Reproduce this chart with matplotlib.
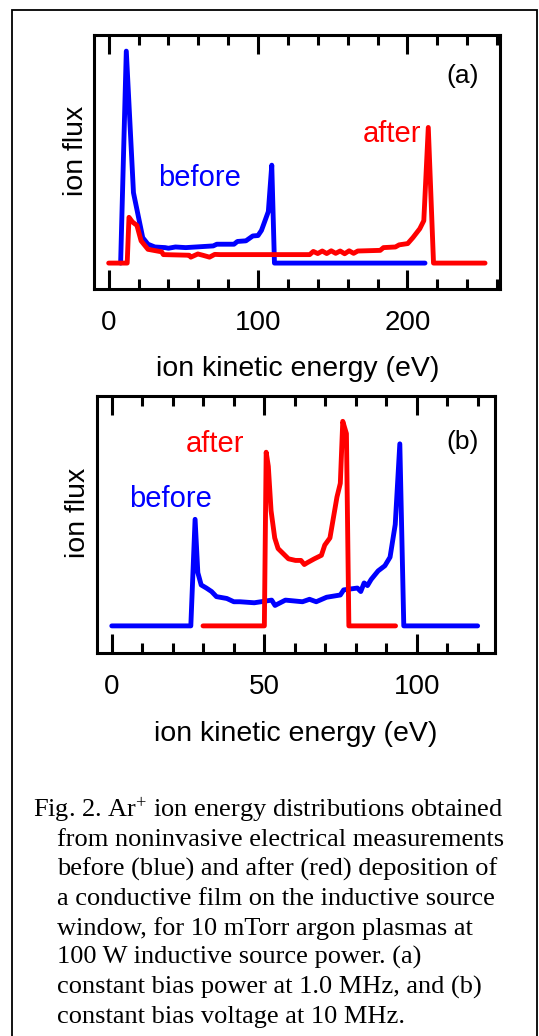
import matplotlib.pyplot as plt
from matplotlib.patches import Rectangle
from matplotlib.ticker import MultipleLocator

# panel (a): constant bias power at 1.0 MHz
a_before_x = [8, 11.8, 16.6, 22.8, 26.3, 30.9, 37.8, 40, 44.7, 51.6, 70, 72.4, 83.9, 86.2,
              91.9, 96.5, 100, 102.3, 106.9, 109.2, 111, 211.8]
a_before_y = [0, 1.0, 0.332, 0.12, 0.089, 0.076, 0.073, 0.070, 0.076, 0.073, 0.081, 0.089,
              0.089, 0.102, 0.105, 0.128, 0.13, 0.154, 0.243, 0.462, 0, 0]
a_after_x = [0, 12.4, 13.6, 15.9, 18.9, 21.7, 26.3, 35.5, 36.6, 53.9, 55, 59.7, 63, 67.5,
             71, 74.7, 134.6, 137, 140, 143, 146, 149, 152, 155, 158, 161, 164, 166.8,
             181.8, 184, 192, 194.5, 200.2, 203.7, 208.3, 211, 214, 217.5, 252]
a_after_y = [0, 0, 0.216, 0.194, 0.178, 0.105, 0.065, 0.053, 0.04, 0.037, 0.028, 0.043,
             0.037, 0.028, 0.041, 0.04, 0.04, 0.055, 0.045, 0.057, 0.045, 0.058, 0.046,
             0.057, 0.044, 0.058, 0.046, 0.057, 0.06, 0.073, 0.076, 0.086, 0.092, 0.12,
             0.162, 0.2, 0.64, 0, 0]

# panel (b): constant bias voltage at 10 MHz
b_before_x = [0, 25.9, 27.3, 28.2, 29.3, 31, 32.7, 34.3, 37.7, 40, 42, 46.7, 52.4, 53.5,
              56.9, 62.5, 64.8, 67, 70.4, 74.9, 76, 80.5, 81.6, 82.7, 83.8, 85, 87.3,
              89.5, 91.2, 92.9, 94.4, 95.7, 119.9]
b_before_y = [0, 0, 0.521, 0.26, 0.20, 0.185, 0.168, 0.143, 0.134, 0.118, 0.118, 0.113,
              0.126, 0.10, 0.126, 0.118, 0.13, 0.118, 0.14, 0.151, 0.176, 0.185, 0.168,
              0.21, 0.197, 0.227, 0.269, 0.294, 0.336, 0.496, 0.89, 0, 0]
b_after_x = [29.9, 50, 50.6, 51.3, 52.2, 53.4, 54.5, 56.2, 57.9, 60.2, 62, 63.1, 64.2,
             66.4, 68.7, 69.8, 71.5, 73.8, 74.9, 75.7, 76.9, 77.7, 93]
b_after_y = [0, 0, 0.849, 0.78, 0.563, 0.43, 0.378, 0.353, 0.328, 0.32, 0.32, 0.30,
             0.31, 0.328, 0.345, 0.395, 0.43, 0.63, 0.697, 1.0, 0.94, 0, 0]

BLUE = '#0000ff'
RED = '#ff0000'

plt.rcParams['font.family'] = ['Liberation Sans', 'DejaVu Sans']
plt.rcParams['mathtext.fontset'] = 'custom'
plt.rcParams['mathtext.rm'] = 'Liberation Serif'
plt.rcParams['mathtext.it'] = 'Liberation Serif:italic'

fig = plt.figure(figsize=(5.39, 10.36), dpi=100)

# outer frame of the clipped figure page
fig.patches.append(Rectangle((12 / 539, -0.05), 525 / 539, 1 - 10 / 1036 + 0.05,
                             transform=fig.transFigure, fill=False,
                             edgecolor='black', linewidth=1.3))


def style_axes(ax, major, minor, ylab_y):
    for s in ax.spines.values():
        s.set_linewidth(2.2)
    ax.xaxis.set_major_locator(MultipleLocator(major))
    ax.xaxis.set_minor_locator(MultipleLocator(minor))
    ax.tick_params(axis='x', which='major', direction='in', top=True, bottom=True,
                   length=13.5, width=2.2, labelsize=20, pad=15)
    ax.tick_params(axis='x', which='minor', direction='in', top=True, bottom=True,
                   length=7, width=2.2)
    ax.tick_params(axis='y', which='both', left=False, right=False, labelleft=False)
    ax.set_xlabel('ion kinetic energy (eV)', fontsize=20.5, labelpad=15)
    ax.set_ylabel('ion flux', fontsize=20.5, labelpad=4)
    ax.yaxis.label.set_y(ylab_y)


lw = 3.5

ax1 = fig.add_axes([0.1753, 0.7213, 0.7523, 0.2445])
ax1.plot(a_before_x, a_before_y, color=BLUE, lw=lw, solid_capstyle='round', solid_joinstyle='round')
ax1.plot(a_after_x, a_after_y, color=RED, lw=lw, solid_capstyle='round', solid_joinstyle='round')
ax1.set_xlim(-9.5, 262)
ax1.set_ylim(-0.121, 1.074)
style_axes(ax1, 100, 20, 0.546)
ax1.text(60.8, 0.40, 'before', color=BLUE, fontsize=21, ha='center', va='center')
ax1.text(189.9, 0.608, 'after', color=RED, fontsize=21, ha='center', va='center')
ax1.text(237, 0.883, '(a)', color='black', fontsize=19, ha='center', va='center')

ax2 = fig.add_axes([0.18, 0.3694, 0.7384, 0.2488])
ax2.plot(b_before_x, b_before_y, color=BLUE, lw=lw, solid_capstyle='round', solid_joinstyle='round')
ax2.plot(b_after_x, b_after_y, color=RED, lw=lw, solid_capstyle='round', solid_joinstyle='round')
ax2.set_xlim(-4.84, 125.6)
ax2.set_ylim(-0.134, 1.126)
style_axes(ax2, 50, 10, 0.546)
ax2.text(19.4, 0.62, 'before', color=BLUE, fontsize=21, ha='center', va='center')
ax2.text(33.8, 0.89, 'after', color=RED, fontsize=21, ha='center', va='center')
ax2.text(114.9, 0.90, '(b)', color='black', fontsize=19, ha='center', va='center')

caption = [
    r'Fig. 2. Ar$^{+}$ ion energy distributions obtained',
    'from noninvasive electrical measurements',
    'before (blue) and after (red) deposition of',
    'a conductive film on the inductive source',
    'window, for 10 mTorr argon plasmas at',
    '100 W inductive source power. (a)',
    'constant bias power at 1.0 MHz, and (b)',
    'constant bias voltage at 10 MHz.',
]
base0 = 817
for i, line in enumerate(caption):
    x = 32.7 if i == 0 else 57.3
    fig.text(x / 539, 1 - (base0 + i * 29.4) / 1036, line, fontsize=19,
             family='Liberation Serif', va='baseline', ha='left')

fig.savefig('out.png', dpi=100)
